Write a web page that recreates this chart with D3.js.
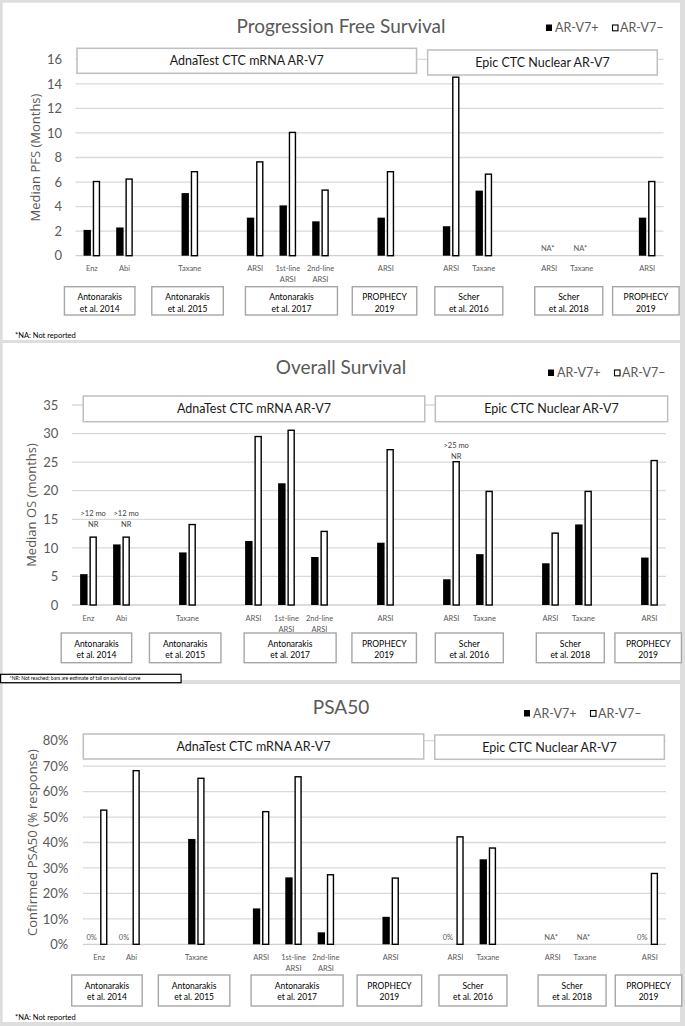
<!DOCTYPE html>
<html><head><meta charset="utf-8">
<script src="https://cdn.jsdelivr.net/npm/d3@7"></script>
<style>html,body{margin:0;padding:0;background:#fff;} svg{display:block}</style>
</head><body>
<svg id="chart" width="685" height="1026"></svg>
<script>
// ---------------- DATA ----------------
const categories = ["Enz","Abi","","Taxane","","ARSI","1st-line|ARSI","2nd-line|ARSI","","ARSI","","ARSI","Taxane","","ARSI","Taxane","","ARSI"];
const seriesNames = ["AR-V7+","AR-V7–"];
const platforms = ["AdnaTest CTC mRNA AR-V7","Epic CTC Nuclear AR-V7"];
const studyNames = [["Antonarakis","et al. 2014"],["Antonarakis","et al. 2015"],["Antonarakis","et al. 2017"],["PROPHECY","2019"],["Scher","et al. 2016"],["Scher","et al. 2018"],["PROPHECY","2019"]];

// PFS (months); "NA" = not reported
const pfsPositive = [2.1,2.3,null,5.1,null,3.1,4.1,2.8,null,3.1,null,2.4,5.3,null,"NA","NA",null,3.1];
const pfsNegative = [6.1,6.3,null,6.9,null,7.7,10.1,5.4,null,6.9,null,14.6,6.7,null,null,null,null,6.1];
// OS (months)
const osPositive = [5.4,10.6,null,9.2,null,11.2,21.3,8.4,null,10.9,null,4.5,8.9,null,7.3,14.1,null,8.3];
const osNegative = [12,12,null,14.2,null,29.6,30.7,13.0,null,27.3,null,25.2,20,null,12.7,20,null,25.4];
// PSA50 (% response)
const psaPositive = [0,0,null,41.4,null,14.1,26.3,4.7,null,10.8,null,0,33.4,null,"NA","NA",null,0];
const psaNegative = [53,68.5,null,65.5,null,52.4,66.1,27.6,null,26.3,null,42.5,38.1,null,null,null,null,28.1];

const pfsTicks = [0,2,4,6,8,10,12,14,16];
const osTicks = [0,5,10,15,20,25,30,35];
const psaTicks = [0,10,20,30,40,50,60,70,80];
const psaTickLabels = ["0%","10%","20%","30%","40%","50%","60%","70%","80%"];

// OS annotations (not reached)
const osNotes = [{slot:0, lines:[">12 mo","NR"]},{slot:1, lines:[">12 mo","NR"]},{slot:11, lines:[">25 mo","NR"]}];

// ---------------- LAYOUT ----------------
const studyLayout = [{c:0.24,w:70.5},{c:2.93,w:71.5},{c:6.11,w:92},{c:8.96,w:64.5},{c:11.54,w:68},{c:14.6,w:68},{c:16.96,w:66.5}];
const panels = [
 {pos:pfsPositive, neg:pfsNegative, ticks:pfsTicks, tickLabels:pfsTicks.map(String), dom:[0,16],
  title:"Progression Free Survival", yTitle:"Median PFS (Months)",
  frame:[2.7,2.7,680,340], xr:[75.5,663.5], yr:[255.7,59.3], titleY:33.4, legend:[546,32],
  yTitleX:35, tickRight:62, catY:271, studyY:[286.7,315],
  groups:[[0.046,10.44,48.3,73.3],[10.78,17.81,50,75]], foot:{text:"*NA: Not reported",x:15,y:338}, unit:""},
 {pos:osPositive, neg:osNegative, ticks:osTicks, tickLabels:osTicks.map(String), dom:[0,35],
  title:"Overall Survival", yTitle:"Median OS (months)",
  frame:[2.7,343,680,680], xr:[72,666], yr:[605,405], titleY:374.3, legend:[548,377],
  yTitleX:31.3, tickRight:58.3, catY:621, studyY:[633,662.7],
  groups:[[0.34,10.69,396,421.7],[11.01,18.05,396,421.7]], foot:null, notes:osNotes},
 {pos:psaPositive, neg:psaNegative, ticks:psaTicks, tickLabels:psaTickLabels, dom:[0,80],
  title:"PSA50", yTitle:"Confirmed PSA50 (% response)",
  frame:[2.7,684,680,1022], xr:[83,666], yr:[944.3,740.7], titleY:714.3, legend:[524,717.5],
  yTitleX:32.5, tickRight:68.3, catY:959.5, studyY:[975,1006],
  groups:[[0.01,10.52,734,759],[10.86,17.95,735,759.3]], foot:{text:"*NA: Not reported",x:15,y:1019.5}, zeroLabel:"0%"}
];

const FONT = "Lato, 'Open Sans', sans-serif";
const GRAY = "#595959";
const svg = d3.select("#chart");
svg.append("rect").attr("width",685).attr("height",1026).attr("fill","#dedede");

panels.forEach(p => {
  const g = svg.append("g");
  const [fx0,fy0,fx1,fy1] = p.frame;
  g.append("rect").attr("x",fx0).attr("y",fy0).attr("width",fx1-fx0).attr("height",fy1-fy0).attr("fill","#fff");

  const slots = d3.range(categories.length);
  const x = d3.scaleBand().domain(slots).range(p.xr).paddingInner(0).paddingOuter(0);
  const step = x.step();
  const xs = d3.scaleBand().domain(seriesNames).range([0,step]).paddingInner(0.2).paddingOuter(0.87);
  const y = d3.scaleLinear().domain(p.dom).range(p.yr);

  // gridlines
  g.append("g").selectAll("line").data(p.ticks).join("line")
    .attr("x1",p.xr[0]).attr("x2",p.xr[1]).attr("y1",d=>y(d)).attr("y2",d=>y(d))
    .attr("stroke",d=>d===0?"#cfcfcf":"#d9d9d9").attr("stroke-width",1.3);
  // tick labels
  g.append("g").selectAll("text").data(p.ticks).join("text")
    .attr("x",p.tickRight).attr("y",d=>y(d)).attr("dy","0.36em").attr("text-anchor","end")
    .attr("font-family",FONT).attr("font-size",13).attr("fill",GRAY).text((d,i)=>p.tickLabels[i]);
  // y title
  const ymid = (p.yr[0]+p.yr[1])/2 + (p===panels[0]?0:0);
  g.append("text").attr("transform",`translate(${p.yTitleX},${ymid}) rotate(-90)`)
    .attr("text-anchor","middle").attr("dy","0.35em")
    .attr("font-family","'Open Sans', sans-serif").attr("font-size",13).attr("fill",GRAY).text(p.yTitle);

  // title
  g.append("text").attr("x",341).attr("y",p.titleY).attr("text-anchor","middle")
    .attr("font-family",FONT).attr("font-size",19).attr("fill",GRAY).text(p.title);
  // legend
  const [lx,ly] = p.legend;
  g.append("rect").attr("x",lx).attr("y",ly-7.5).attr("width",6).attr("height",6.5).attr("fill","#000");
  g.append("text").attr("x",lx+9).attr("y",ly).attr("font-family",FONT).attr("font-size",12.5).attr("fill",GRAY).text(seriesNames[0]);
  g.append("rect").attr("x",lx+66.5).attr("y",ly-7).attr("width",5.5).attr("height",5.8).attr("fill","#fff").attr("stroke","#000").attr("stroke-width",1.1);
  g.append("text").attr("x",lx+74).attr("y",ly).attr("font-family",FONT).attr("font-size",12.5).attr("fill",GRAY).text(seriesNames[1]);

  // platform group boxes
  p.groups.forEach((gb,i) => {
    const bx0 = p.xr[0] + gb[0]*step, bx1 = p.xr[0] + gb[1]*step;
    g.append("rect").attr("x",bx0).attr("y",gb[2]).attr("width",bx1-bx0).attr("height",gb[3]-gb[2])
      .attr("fill","#fff").attr("stroke","#bfbfbf").attr("stroke-width",1.5);
    g.append("text").attr("x",(bx0+bx1)/2).attr("y",(gb[2]+gb[3])/2).attr("dy","0.36em").attr("text-anchor","middle")
      .attr("font-family",FONT).attr("font-size",12.5).attr("fill","#1a1a1a").text(platforms[i]);
  });

  // bars
  const bw = xs.bandwidth();
  const posBars = slots.filter(i => typeof p.pos[i] === "number" && p.pos[i] > 0);
  g.append("g").selectAll("rect").data(posBars).join("rect")
    .attr("x",i=>x(i)+xs(seriesNames[0])).attr("width",bw)
    .attr("y",i=>y(p.pos[i])).attr("height",i=>y(0)-y(p.pos[i])).attr("fill","#000");
  const negBars = slots.filter(i => typeof p.neg[i] === "number" && p.neg[i] > 0);
  g.append("g").selectAll("rect").data(negBars).join("rect")
    .attr("x",i=>x(i)+xs(seriesNames[1])+0.7).attr("width",bw-1.4)
    .attr("y",i=>y(p.neg[i])+0.7).attr("height",i=>y(0)-y(p.neg[i])-0.7)
    .attr("fill","#fff").attr("stroke","#000").attr("stroke-width",1.4);

  // NA labels
  const naSlots = slots.filter(i => p.pos[i] === "NA");
  g.append("g").selectAll("text").data(naSlots).join("text")
    .attr("x",i=>x(i)+step/2-1.5).attr("y",y(0)-4.5).attr("text-anchor","middle")
    .attr("font-family",FONT).attr("font-size",7.5).attr("fill",GRAY).text("NA*");
  // zero labels
  if (p.zeroLabel) {
    const zSlots = slots.filter(i => p.pos[i] === 0);
    g.append("g").selectAll("text").data(zSlots).join("text")
      .attr("x",i=>x(i)+xs(seriesNames[0])+bw/2-3).attr("y",y(0)-4).attr("text-anchor","middle")
      .attr("font-family",FONT).attr("font-size",7.5).attr("fill",GRAY).text(p.zeroLabel);
  }
  // NR notes
  if (p.notes) {
    p.notes.forEach(n => {
      const cx = x(n.slot)+xs(seriesNames[1])+bw/2;
      const top = y(p.neg[n.slot]);
      const off = n.slot===11 ? 2.5 : 9;
      g.append("text").attr("x",cx).attr("y",top-off).attr("text-anchor","middle")
        .attr("font-family",FONT).attr("font-size",7.5).attr("fill","#404040").text(n.lines[1]);
      g.append("text").attr("x",cx).attr("y",top-off-11).attr("text-anchor","middle")
        .attr("font-family",FONT).attr("font-size",7.5).attr("fill","#404040").text(n.lines[0]);
    });
  }

  // category labels
  const catG = g.append("g").selectAll("text").data(slots.filter(i=>categories[i])).join("text")
    .attr("x",i=>x(i)+step/2).attr("y",p.catY).attr("text-anchor","middle")
    .attr("font-family",FONT).attr("font-size",7.5).attr("fill",GRAY);
  catG.each(function(i){
    const parts = categories[i].split("|");
    d3.select(this).selectAll("tspan").data(parts).join("tspan")
      .attr("x",x(i)+step/2).attr("dy",(d,k)=>k===0?0:11).text(d=>d);
  });

  // study boxes
  studyLayout.forEach((s,i) => {
    const cx = p.xr[0] + (s.c+0.5)*step;
    const [sy0,sy1] = p.studyY;
    g.append("rect").attr("x",cx-s.w/2).attr("y",sy0).attr("width",s.w).attr("height",sy1-sy0)
      .attr("fill","#fff").attr("stroke","#a6a6a6").attr("stroke-width",1.4);
    g.append("text").attr("x",cx).attr("y",sy0+13.5).attr("text-anchor","middle")
      .attr("font-family",FONT).attr("font-size",8.5).attr("fill","#000").text(studyNames[i][0]);
    g.append("text").attr("x",cx).attr("y",sy0+25).attr("text-anchor","middle")
      .attr("font-family",FONT).attr("font-size",8.5).attr("fill","#000").text(studyNames[i][1]);
  });

  if (p.foot) {
    g.append("text").attr("x",p.foot.x).attr("y",p.foot.y).attr("font-family",FONT)
      .attr("font-size",7.5).attr("fill","#000").text(p.foot.text);
  }
});

// NR footnote box (OS)
svg.append("rect").attr("x",0.6).attr("y",674.3).attr("width",180.5).attr("height",8.4)
  .attr("fill","#fff").attr("stroke","#000").attr("stroke-width",1.2);
svg.append("text").attr("x",9.6).attr("y",680.4).attr("font-family",FONT).attr("font-size",5)
  .attr("fill","#000").text("*NR: Not reached; bars are estimate of tail on survival curve");
</script>
</body></html>
